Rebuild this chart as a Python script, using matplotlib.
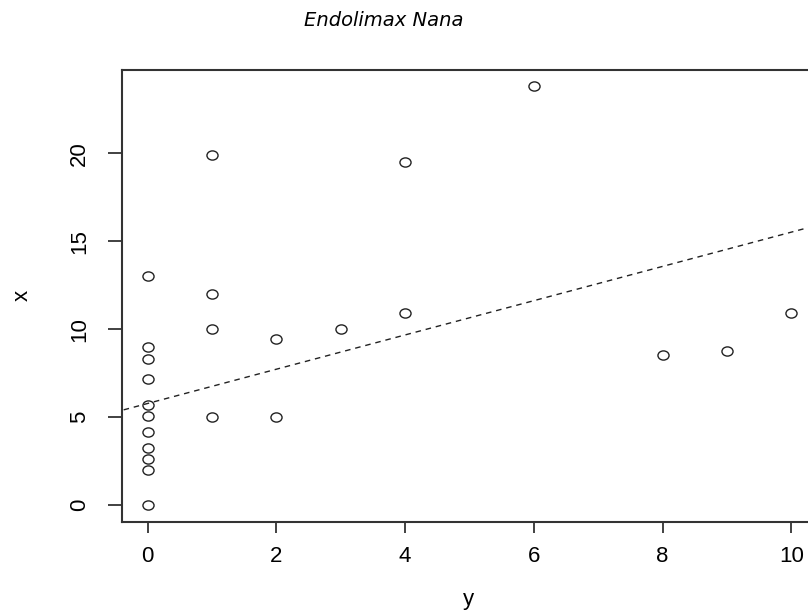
import numpy as np
import matplotlib
matplotlib.use("Agg")
import matplotlib.pyplot as plt
from matplotlib.path import Path
from matplotlib.transforms import Affine2D

# data (horizontal axis labelled "y", vertical axis labelled "x")
y_vals = [0, 0, 0, 0, 0, 0, 0, 0, 0, 0, 0,
          1, 1, 1, 1,
          2, 2,
          3,
          4, 4,
          6,
          8, 9, 10]
x_vals = [13.0, 9.0, 8.3, 7.15, 5.7, 5.05, 4.15, 3.25, 2.6, 2.0, 0.0,
          19.9, 12.0, 10.0, 5.0,
          9.45, 5.0,
          10.0,
          19.5, 10.9,
          23.85,
          8.55, 8.75, 10.9]
line_intercept = 5.77
line_slope = 0.975

xticks = [0, 2, 4, 6, 8, 10]
yticks = [0, 5, 10, 15, 20]
title = "Endolimax Nana"

W, H = 808, 612
fig = plt.figure(figsize=(W / 100, H / 100), dpi=100)
left, right, top, bottom = 122, 817, 70, 521.5
ax = fig.add_axes([left / W, 1 - bottom / H, (right - left) / W, (bottom - top) / H])

ell = Path.unit_circle().transformed(Affine2D().scale(1.15, 0.95))
ax.plot(y_vals, x_vals, linestyle="none", marker=ell, markersize=8,
        markerfacecolor="none", markeredgecolor="#222222", markeredgewidth=1.0)

xs = np.array([-1.0, 12.0])
ax.plot(xs, line_intercept + line_slope * xs, color="#222222", lw=1.0,
        linestyle=(0, (4, 3.5)))

ax.set_xlim(-0.4, 10.4)
ax.set_ylim(-0.95, 24.75)
ax.set_xticks(xticks)
ax.set_yticks(yticks)
ax.set_xticklabels([str(t) for t in xticks], fontsize=16, family="Liberation Sans")
ax.set_yticklabels([str(t) for t in yticks], fontsize=16, family="Liberation Sans",
                   rotation=90, va="center")
ax.tick_params(axis="x", length=8, width=1.3, color="#333333", pad=10)
ax.tick_params(axis="y", length=10, width=1.3, color="#333333", pad=13)
for s in ax.spines.values():
    s.set_color("#333333")
    s.set_linewidth(1.5)

fig.text(468 / W, 2 / H, "y", ha="center", va="bottom", fontsize=16,
         family="Liberation Sans")
fig.text(22 / W, 1 - 295 / H, "x", ha="center", va="center", fontsize=16,
         family="Liberation Sans", rotation=90)
fig.text(384 / W, 1 - 21 / H, title, ha="center", va="center", fontsize=14,
         family="DejaVu Sans", style="italic")

fig.savefig("out.png", dpi=100)
